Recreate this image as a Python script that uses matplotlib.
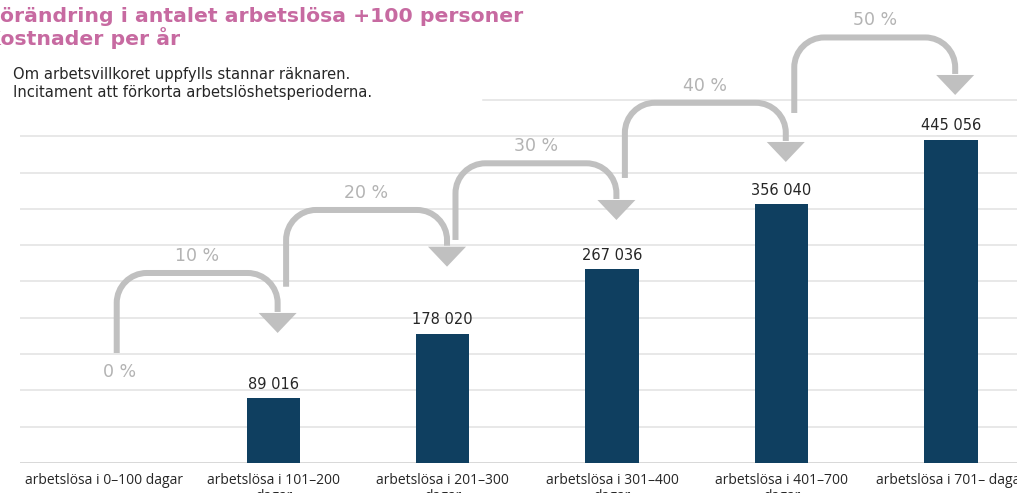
import matplotlib
matplotlib.use("Agg")
import matplotlib.pyplot as plt
from matplotlib.path import Path
from matplotlib.patches import PathPatch, Polygon
from matplotlib.transforms import IdentityTransform
from matplotlib.textpath import TextToPath
from matplotlib.font_manager import FontProperties

# ---------------- data ----------------
categories = [
    "arbetslösa i 0–100 dagar",
    "arbetslösa i 101–200\ndagar",
    "arbetslösa i 201–300\ndagar",
    "arbetslösa i 301–400\ndagar",
    "arbetslösa i 401–700\ndagar",
    "arbetslösa i 701– dagar",
]
costs = [0, 89016, 178020, 267036, 356040, 445056]
value_labels = ["", "89 016", "178 020", "267 036", "356 040", "445 056"]
pct_labels = ["0 %", "10 %", "20 %", "30 %", "40 %", "50 %"]
# step arrows between consecutive categories (levels in value units)
arrow_base = [151500, 242800, 307200, 392600, 482100]
arrow_top = [261700, 348500, 412800, 496100, 586100]
arrow_tip = [179100, 270400, 334700, 414600, 506900]

title_1 = "Förändring i antalet arbetslösa +100 personer"
title_2 = "Kostnader per år"
subtitle_1 = "Om arbetsvillkoret uppfylls stannar räknaren."
subtitle_2 = "Incitament att förkorta arbetslöshetsperioderna."

# ---------------- style ----------------
W, H, DPI = 1017, 493, 100
BAR = "#0f3f60"
GRID = "#e2e2e2"
ARROW = "#c0c0c0"
PCT = "#b3b3b3"
TXT = "#262626"
PINK = "#c76aa1"

fig = plt.figure(figsize=(W / DPI, H / DPI), dpi=DPI, facecolor="white")
ax = fig.add_axes([20 / W, 30 / H, 997 / W, 463 / H])
ax.set_xlim(-0.496, 5.39)
ax.set_ylim(0, 637700)
for s in ax.spines.values():
    s.set_visible(False)
ax.set_yticks([])

x = list(range(len(categories)))
ax.bar(x, costs, width=0.315, color=BAR, zorder=3)

# grid lines
for v in range(50000, 450001, 50000):
    ax.axhline(v, color=GRID, lw=1.1, zorder=0)
ax.axhline(500000, xmin=0.464, color=GRID, lw=1.1, zorder=0)
ax.axhline(0, color="#d6d6d6", lw=1.3, zorder=1)

ax.set_xticks(x)
ax.set_xticklabels(categories, fontsize=10, family=["Open Sans", "DejaVu Sans"],
                   color=TXT, linespacing=1.1)
ax.tick_params(axis="x", length=0, pad=7)

# value labels
for xi, v, lab in zip(x, costs, value_labels):
    if lab:
        ax.annotate(lab, (xi, v), xytext=(0, 14), textcoords="offset pixels",
                    ha="center", va="center", fontsize=10.5, color=TXT,
                    family="DejaVu Sans", zorder=5)

# step arrows
T = ax.transData
r = 30.0
k = 0.5523 * r
lw_px = 6.0
head_w, head_h = 38.0, 20.0
start_off, end_off = 0.075, 0.025
for i in range(len(arrow_base)):
    x0 = x[i] + start_off
    x1 = x[i + 1] + end_off
    X0, Yb = T.transform((x0, arrow_base[i]))
    X1, Yt = T.transform((x1, arrow_top[i]))
    _, Ytip = T.transform((x1, arrow_tip[i]))
    Yh = Ytip + head_h
    verts = [(X0, Yb), (X0, Yt - r),
             (X0, Yt - r + k), (X0 + r - k, Yt), (X0 + r, Yt),
             (X1 - r, Yt),
             (X1 - r + k, Yt), (X1, Yt - r + k), (X1, Yt - r),
             (X1, Yh + 1)]
    codes = [Path.MOVETO, Path.LINETO,
             Path.CURVE4, Path.CURVE4, Path.CURVE4,
             Path.LINETO,
             Path.CURVE4, Path.CURVE4, Path.CURVE4,
             Path.LINETO]
    fig.patches.append(PathPatch(Path(verts, codes), fill=False, edgecolor=ARROW,
                                 lw=lw_px * 72 / DPI, capstyle="butt", joinstyle="round",
                                 transform=IdentityTransform(), zorder=4))
    fig.patches.append(Polygon([(X1 - head_w / 2, Yh), (X1 + head_w / 2, Yh), (X1, Ytip)],
                               closed=True, facecolor=ARROW, edgecolor="none",
                               transform=IdentityTransform(), zorder=4))
    ax.annotate(pct_labels[i + 1], ((x0 + x1) / 2, arrow_top[i]), xytext=(0, 17),
                textcoords="offset pixels", ha="center", va="center",
                fontsize=12.5, color=PCT, family="DejaVu Sans")

ax.annotate(pct_labels[0], (x[0] + start_off, arrow_base[0]), xytext=(3, -19),
            textcoords="offset pixels", ha="center", va="center",
            fontsize=12.5, color=PCT, family="DejaVu Sans")

# titles (first letter is cropped off in the reference)
ttp = TextToPath()
def width_px(s, fp):
    w, _, _ = ttp.get_text_width_height_descent(s, fp, ismath=False)
    return w * DPI / 72.0
base_fp = FontProperties(family="DejaVu Sans", weight="bold", size=15)
tsize = 15 * 522.0 / width_px(title_1[1:], base_fp)
tfp = FontProperties(family="DejaVu Sans", weight="bold", size=tsize)
off1 = width_px(title_1, tfp) - width_px(title_1[1:], tfp)
off2 = width_px(title_2, tfp) - width_px(title_2[1:], tfp)
fig.text(-off1 / W, 1 - 22 / H, title_1, fontproperties=tfp, color=PINK, va="baseline")
fig.text(-off2 / W, 1 - 45 / H, title_2, fontproperties=tfp, color=PINK, va="baseline")

sfp = FontProperties(family="DejaVu Sans", size=10.6)
fig.text(13 / W, 1 - 79 / H, subtitle_1, fontproperties=sfp, color=TXT, va="baseline")
fig.text(13 / W, 1 - 97 / H, subtitle_2, fontproperties=sfp, color=TXT, va="baseline")

fig.savefig("out.png", dpi=DPI, facecolor="white")
